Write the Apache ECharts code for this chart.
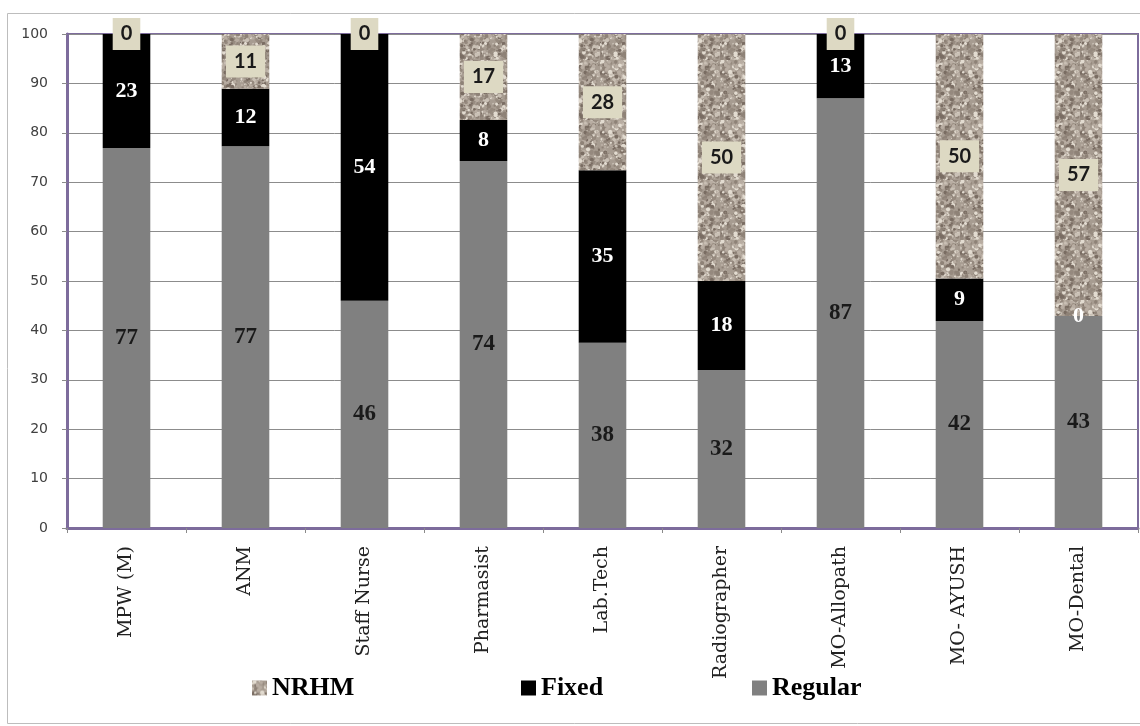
<!DOCTYPE html>
<html>
<head>
<meta charset="utf-8">
<script src="https://cdn.jsdelivr.net/npm/echarts@6/dist/echarts.min.js"></script>
<style>
  html, body { margin: 0; padding: 0; background: #fff; }
  #chart { width: 1140px; height: 726px; }
</style>
</head>
<body>
<div id="chart"></div>
<script>
// staff categories and share (%) by type of appointment
// (bar heights; labels show them rounded)
var categories = ['MPW (M)', 'ANM', 'Staff Nurse', 'Pharmasist', 'Lab.Tech', 'Radiographer', 'MO-Allopath', 'MO- AYUSH', 'MO-Dental'];
var regularData = [76.9, 77.3, 46, 74.3, 37.5, 32, 87, 41.9, 42.9];
var fixedData = [23.1, 11.6, 54, 8.3, 34.9, 18, 13, 8.6, 0];
var nrhmData = [0, 11.1, 0, 17.4, 27.6, 50, 0, 49.5, 57.1];
var yTicks = [0, 10, 20, 30, 40, 50, 60, 70, 80, 90, 100];

// granite-like texture for the NRHM segment
function makeGranite() {
    var c = document.createElement('canvas');
    c.width = 60;
    c.height = 60;
    var ctx = c.getContext('2d');
    ctx.fillStyle = '#a79c91';
    ctx.fillRect(0, 0, 60, 60);
    var seed = 12345;
    function rnd() {
        seed = (seed * 1103515245 + 12345) % 2147483648;
        return seed / 2147483648;
    }
    var shades = ['#7a6d63', '#8e8277', '#c9c0b5', '#e2dbd0', '#968a7f', '#b8ada2'];
    for (var i = 0; i < 700; i++) {
        ctx.fillStyle = shades[Math.floor(rnd() * shades.length)];
        ctx.beginPath();
        ctx.arc(rnd() * 60, rnd() * 60, 0.6 + rnd() * 1.6, 0, Math.PI * 2);
        ctx.fill();
    }
    return c;
}
var granite = { image: makeGranite(), repeat: 'repeat' };

function roundLabel(p) {
    return Math.round(p.value);
}

var legendText = { fontFamily: 'Liberation Serif', fontWeight: 'bold', fontSize: 26, color: '#000' };

var chart = echarts.init(document.getElementById('chart'));
chart.setOption({
    animation: false,
    graphic: [{
        type: 'rect',
        shape: { x: 7.5, y: 13.5, width: 1140, height: 710 },
        style: { fill: 'none', stroke: '#bdbdbd', lineWidth: 1 },
        z: -1
    }],
    grid: {
        left: 67,
        right: 2,
        top: 34,
        bottom: 198,
        show: true,
        borderColor: '#7d6c9c',
        borderWidth: 2
    },
    legend: [
        { data: ['NRHM'], left: 247, top: 670, icon: 'rect', itemWidth: 15, itemHeight: 15, textStyle: legendText },
        { data: ['Fixed'], left: 516, top: 670, icon: 'rect', itemWidth: 15, itemHeight: 15, textStyle: legendText },
        { data: ['Regular'], left: 747, top: 670, icon: 'rect', itemWidth: 15, itemHeight: 15, textStyle: legendText }
    ],
    xAxis: {
        type: 'category',
        data: categories,
        axisLine: { lineStyle: { color: '#7d6c9c', width: 3 } },
        axisTick: { show: true, length: 5, lineStyle: { color: '#8a8a8a' } },
        axisLabel: {
            interval: 0,
            rotate: 90,
            margin: 18,
            fontFamily: 'DejaVu Serif',
            fontSize: 19,
            color: '#222'
        }
    },
    yAxis: {
        type: 'value',
        min: yTicks[0],
        max: yTicks[yTicks.length - 1],
        interval: 10,
        axisLine: { show: true, lineStyle: { color: '#7d6c9c', width: 3 } },
        axisTick: { show: true, length: 5, lineStyle: { color: '#8a8a8a' } },
        splitLine: { lineStyle: { color: '#8c8c8c', width: 1 } },
        axisLabel: {
            margin: 19,
            fontFamily: 'DejaVu Sans',
            fontSize: 14,
            color: '#404040'
        }
    },
    series: [
        {
            name: 'Regular',
            type: 'bar',
            stack: 'total',
            barWidth: '40%',
            itemStyle: { color: '#808080' },
            label: {
                show: true,
                position: 'inside',
                formatter: roundLabel,
                fontFamily: 'Liberation Serif',
                fontWeight: 'bold',
                fontSize: 23,
                color: '#1a1a1a'
            },
            data: regularData
        },
        {
            name: 'Fixed',
            type: 'bar',
            stack: 'total',
            itemStyle: { color: '#000000' },
            label: {
                show: true,
                position: 'inside',
                formatter: roundLabel,
                fontFamily: 'Liberation Serif',
                fontWeight: 'bold',
                fontSize: 22,
                color: '#ffffff'
            },
            data: fixedData
        },
        {
            name: 'NRHM',
            type: 'bar',
            stack: 'total',
            itemStyle: { color: granite },
            label: {
                show: true,
                position: 'inside',
                formatter: roundLabel,
                fontFamily: 'Lato',
                fontWeight: 'bold',
                fontSize: 20,
                color: '#1a1a1a',
                backgroundColor: '#ddd9c3',
                padding: [6, 8, 6, 8]
            },
            data: nrhmData
        }
    ]
});
</script>
</body>
</html>
